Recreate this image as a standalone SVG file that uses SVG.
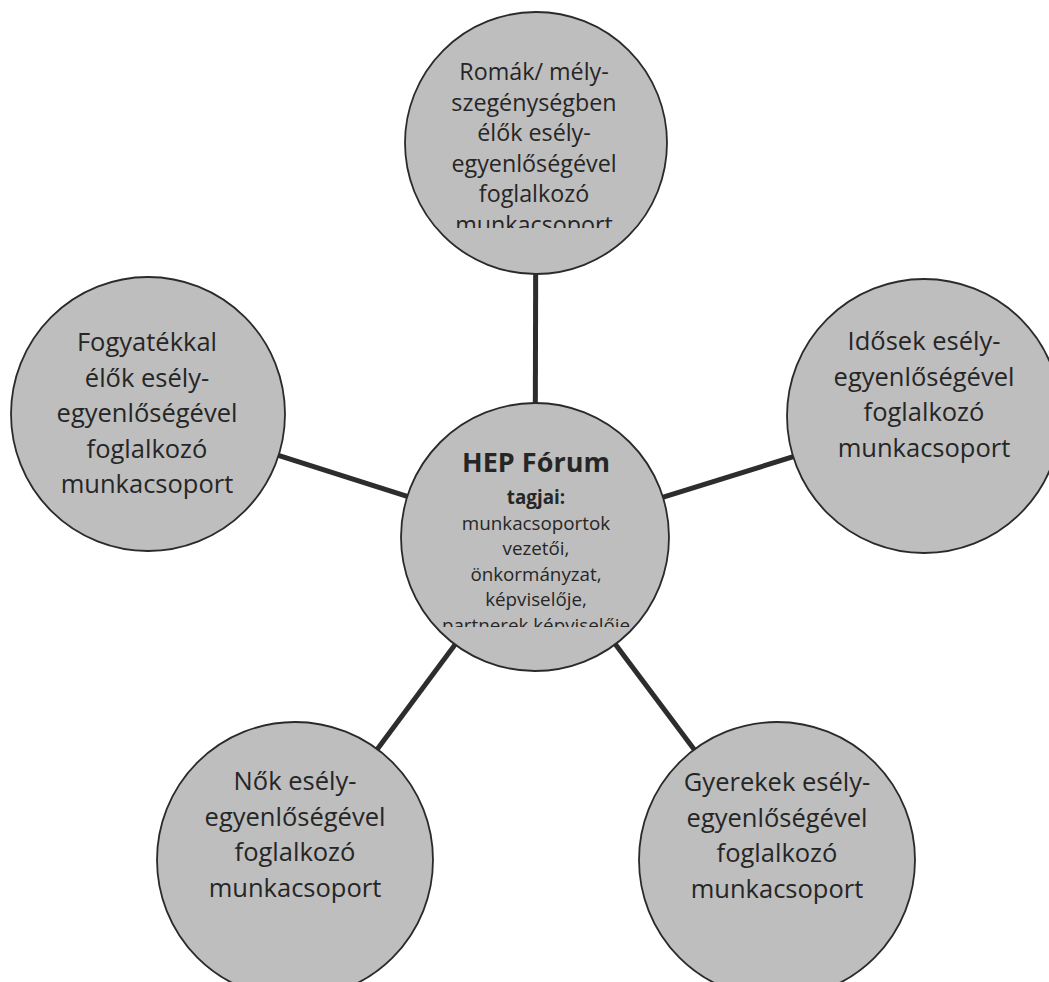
<svg xmlns="http://www.w3.org/2000/svg" width="1049" height="982" viewBox="0 0 1049 982">
<style>
.node{fill:#bebebe;stroke:#2a2a2a;stroke-width:1.8}
.edge{stroke:#2d2d2d;stroke-width:5;stroke-linecap:butt}
.t{font-family:"Open Sans","Noto Sans","Liberation Sans",sans-serif;fill:#262626;text-anchor:middle}
.s{font-size:25.5px}
.st{font-size:23.3px}
.h{font-size:27px;font-weight:bold}
.c{font-size:18.8px}
.cb{font-size:18.8px;font-weight:bold}
</style>
<defs>
<clipPath id="clipTop"><rect x="380" y="0" width="320" height="228"/></clipPath>
<clipPath id="clipCenter"><rect x="380" y="400" width="320" height="227"/></clipPath>
</defs>
<rect x="0" y="0" width="1049" height="982" fill="#ffffff"/>
<g id="connectors">
<line class="edge" x1="535" y1="537" x2="536" y2="143"/>
<line class="edge" x1="535" y1="537" x2="148" y2="414"/>
<line class="edge" x1="535" y1="537" x2="924" y2="416"/>
<line class="edge" x1="535" y1="537" x2="295" y2="860"/>
<line class="edge" x1="535" y1="537" x2="777" y2="860"/>
</g>
<g id="node-top">
<circle class="node" cx="536" cy="143" r="131"/>
<g clip-path="url(#clipTop)">
<text class="t st" x="534" y="80">Romák/ mély-</text>
<text class="t st" x="534" y="110.5">szegénységben</text>
<text class="t st" x="534" y="141">élők esély-</text>
<text class="t st" x="534" y="171.5">egyenlőségével</text>
<text class="t st" x="534" y="202">foglalkozó</text>
<text class="t st" x="534" y="232.5">munkacsoport</text>
</g>
</g>
<g id="node-left">
<circle class="node" cx="148" cy="414" r="137"/>
<text class="t s" x="147" y="351">Fogyatékkal</text>
<text class="t s" x="147" y="386.5">élők esély-</text>
<text class="t s" x="147" y="422">egyenlőségével</text>
<text class="t s" x="147" y="457.5">foglalkozó</text>
<text class="t s" x="147" y="493">munkacsoport</text>
</g>
<g id="node-right">
<circle class="node" cx="924" cy="416" r="137"/>
<text class="t s" x="924" y="350">Idősek esély-</text>
<text class="t s" x="924" y="385.5">egyenlőségével</text>
<text class="t s" x="924" y="421">foglalkozó</text>
<text class="t s" x="924" y="456.5">munkacsoport</text>
</g>
<g id="node-bottom-left">
<circle class="node" cx="295" cy="860" r="138"/>
<text class="t s" x="295" y="790">Nők esély-</text>
<text class="t s" x="295" y="825.5">egyenlőségével</text>
<text class="t s" x="295" y="861">foglalkozó</text>
<text class="t s" x="295" y="896.5">munkacsoport</text>
</g>
<g id="node-bottom-right">
<circle class="node" cx="777" cy="860" r="138"/>
<text class="t s" x="777" y="791">Gyerekek esély-</text>
<text class="t s" x="777" y="826.5">egyenlőségével</text>
<text class="t s" x="777" y="862">foglalkozó</text>
<text class="t s" x="777" y="897.5">munkacsoport</text>
</g>
<g id="node-center">
<circle class="node" cx="535" cy="537" r="134"/>
<g clip-path="url(#clipCenter)">
<text class="t h" x="536" y="472">HEP Fórum</text>
<text class="t cb" x="536" y="504">tagjai:</text>
<text class="t c" x="536" y="529.5">munkacsoportok</text>
<text class="t c" x="536" y="555">vezetői,</text>
<text class="t c" x="536" y="580.5">önkormányzat,</text>
<text class="t c" x="536" y="606">képviselője,</text>
<text class="t c" x="536" y="631.5">partnerek képviselője</text>
</g>
</g>
</svg>
